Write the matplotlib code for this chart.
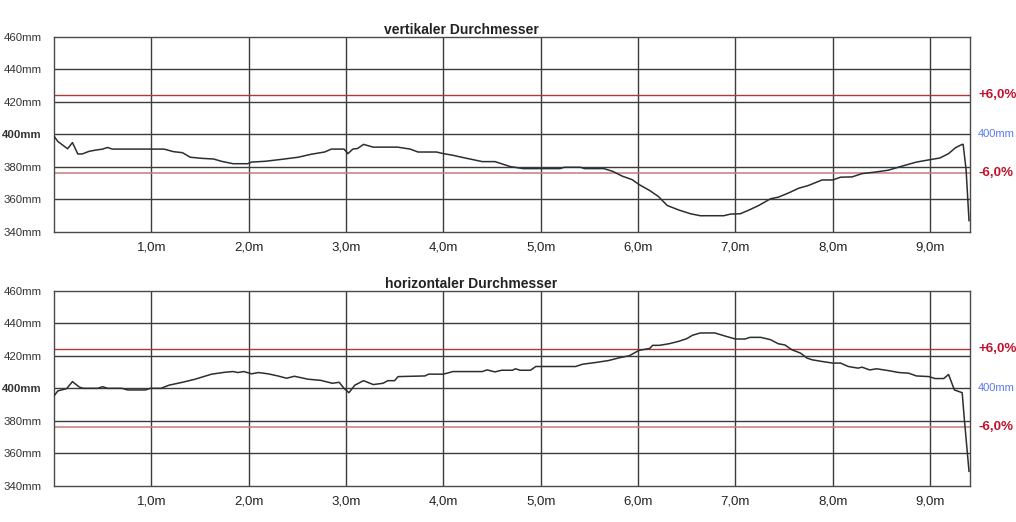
import matplotlib
matplotlib.use("Agg")
import matplotlib.pyplot as plt

plt.rcParams['font.family'] = ['Liberation Sans', 'DejaVu Sans']

# ---- data ----
vert_x = [0, 0.04, 0.14, 0.19, 0.245, 0.29, 0.36, 0.43, 0.50, 0.55, 0.60, 1.13, 1.23, 1.32, 1.40,
          1.52, 1.64, 1.72, 1.84, 1.99, 2.03, 2.17, 2.34, 2.51, 2.64, 2.78, 2.85, 2.98, 3.02, 3.07,
          3.12, 3.18, 3.28, 3.53, 3.66, 3.74, 3.93, 4.00, 4.09, 4.21, 4.40, 4.53, 4.69, 4.82, 5.20,
          5.24, 5.41, 5.45, 5.65, 5.74, 5.84, 5.94, 6.01, 6.12, 6.21, 6.30, 6.42, 6.54, 6.64, 6.88,
          6.95, 7.05, 7.14, 7.24, 7.36, 7.44, 7.55, 7.65, 7.75, 7.89, 8.00, 8.08, 8.20, 8.30, 8.44,
          8.57, 8.74, 8.86, 9.00, 9.10, 9.19, 9.26, 9.33, 9.34, 9.37, 9.40]
vert_y = [399, 395.7, 391.2, 395, 388, 388, 389.6, 390.4, 391, 392, 391, 391, 389.4, 388.8, 386,
          385.3, 384.9, 383.5, 382, 382, 383, 383.5, 384.7, 386, 387.8, 389.2, 391, 391, 388.2, 391,
          391.4, 393.9, 392.2, 392.2, 391, 389.2, 389.2, 388.2, 387.3, 385.7, 383.3, 383.3, 380.2, 379, 379,
          379.8, 379.8, 379, 379, 377.3, 374.3, 372.2, 369.2, 365.5, 361.8, 356.3, 353.5, 351.2, 350, 350,
          351, 351.2, 353.5, 356.3, 360.4, 361.4, 364.1, 366.9, 368.6, 372, 372, 373.7, 373.9, 375.9, 376.9,
          378, 381, 383, 384.5, 385.5, 388.2, 391.8, 393.9, 393.9, 378.4, 347]

horiz_x = [0, 0.04, 0.13, 0.19, 0.26, 0.30, 0.45, 0.50, 0.55, 0.70,
           0.755, 0.94, 0.99, 1.10, 1.18, 1.32, 1.45, 1.62, 1.76, 1.84,
           1.89, 1.95, 2.03, 2.10, 2.20, 2.30, 2.39, 2.47, 2.61, 2.74,
           2.86, 2.93, 2.98, 3.03, 3.09, 3.18, 3.28, 3.38, 3.43, 3.50,
           3.535, 3.81, 3.85, 4.00, 4.10, 4.40, 4.45, 4.53, 4.60, 4.71,
           4.74, 4.79, 4.895, 4.95, 5.36, 5.43, 5.57, 5.70, 5.81, 5.91,
           6.01, 6.12, 6.15, 6.22, 6.32, 6.42, 6.50, 6.56, 6.64, 6.79,
           6.90, 7.00, 7.10, 7.15, 7.26, 7.36, 7.44, 7.51, 7.58, 7.67,
           7.735, 7.79, 7.89, 8.00, 8.08, 8.16, 8.26, 8.30, 8.38, 8.45,
           8.57, 8.68, 8.78, 8.86, 8.99, 9.05, 9.14, 9.19, 9.25, 9.33,
           9.35, 9.40]
horiz_y = [395.3, 398.4, 399.8, 404.1, 400.8, 400, 400, 401, 400, 400,
           399, 399, 400, 400, 401.9, 403.7, 405.6, 408.7, 409.9, 410.3,
           409.7, 410.3, 408.9, 409.7, 408.9, 407.6, 406.2, 407.4, 405.6, 404.9,
           403.1, 403.7, 400, 397.3, 401.9, 404.7, 402.3, 403.1, 404.7, 404.7,
           407.2, 407.6, 408.7, 408.7, 410.3, 410.3, 411.3, 410.1, 411.1, 411.1,
           412, 411.1, 411.1, 413.4, 413.4, 414.8, 415.9, 417.1, 418.8, 420,
           423.3, 424.5, 426.4, 426.4, 427.4, 428.9, 430.5, 432.6, 434, 434,
           432, 430.3, 430.3, 431.3, 431.3, 429.9, 427.4, 426.6, 423.7, 421.6,
           418.6, 417.5, 416.5, 415.5, 415.5, 413.4, 412.4, 413, 411.3, 412,
           410.9, 409.7, 409.3, 407.6, 407.2, 406, 406, 408.5, 399, 397.3,
           382.5, 349]

nominal = 400
tol_pct = 6.0
x_ticks = [1, 2, 3, 4, 5, 6, 7, 8, 9]
x_labels = ["1,0m", "2,0m", "3,0m", "4,0m", "5,0m", "6,0m", "7,0m", "8,0m", "9,0m"]
y_ticks = [340, 360, 380, 400, 420, 440, 460]
y_labels = ["340mm", "360mm", "380mm", "400mm", "420mm", "440mm", "460mm"]
titles = ["vertikaler Durchmesser", "horizontaler Durchmesser"]
upper_label = "+6,0%"
lower_label = "-6,0%"
nominal_label = "400mm"

fig = plt.figure(figsize=(10.16, 5.22), dpi=100)
ax_top = fig.add_axes([0.0531, 0.5556, 0.9016, 0.3736])
ax_bot = fig.add_axes([0.0531, 0.0690, 0.9016, 0.3742])

grid_c = '#3c3c3c'
series = [(ax_top, vert_x, vert_y, titles[0], 0.4446),
          (ax_bot, horiz_x, horiz_y, titles[1], 0.455)]

for ax, xs, ys, title, tx in series:
    ax.set_xlim(0, 9.41)
    ax.set_ylim(340, 460)
    for v in x_ticks:
        ax.axvline(v, color=grid_c, lw=1.0, zorder=1)
    for v in y_ticks[1:-1]:
        ax.axhline(v, color=grid_c, lw=1.0, zorder=1)
    ax.axhline(nominal * (1 + tol_pct / 100), color='#b03838', lw=1.0, zorder=2)
    ax.axhline(nominal * (1 - tol_pct / 100), color='#c87a7a', lw=1.1, zorder=2)
    ax.plot(xs, ys, color='#2b2f2f', lw=1.1, zorder=3)
    for s in ax.spines.values():
        s.set_color('#4a4a4a')
        s.set_linewidth(1.0)
    ax.set_xticks(x_ticks)
    ax.set_xticklabels(x_labels, fontsize=9.5, color='#222222')
    ax.set_yticks(y_ticks)
    ax.set_yticklabels(y_labels, fontsize=8.2, color='#333333')
    for lbl in ax.get_yticklabels():
        if lbl.get_text() == "400mm":
            lbl.set_fontweight('bold')
    ax.tick_params(axis='both', length=0)
    ax.tick_params(axis='y', pad=9)
    ax.tick_params(axis='x', pad=7)
    ax.text(tx, 1.035, title, transform=ax.transAxes, ha='center', va='center',
            fontsize=10, fontweight='bold', color='#222222')
    trans = ax.get_yaxis_transform()
    ax.text(1.009, nominal * (1 + tol_pct / 100), upper_label, transform=trans,
            ha='left', va='center', fontsize=9.6, fontweight='bold', color='#c0122c')
    ax.text(1.009, nominal, nominal_label, transform=trans,
            ha='left', va='center', fontsize=8, color='#5a78f0')
    ax.text(1.009, nominal * (1 - tol_pct / 100), lower_label, transform=trans,
            ha='left', va='center', fontsize=9.6, fontweight='bold', color='#c0122c')

fig.savefig("out.png", dpi=100)
